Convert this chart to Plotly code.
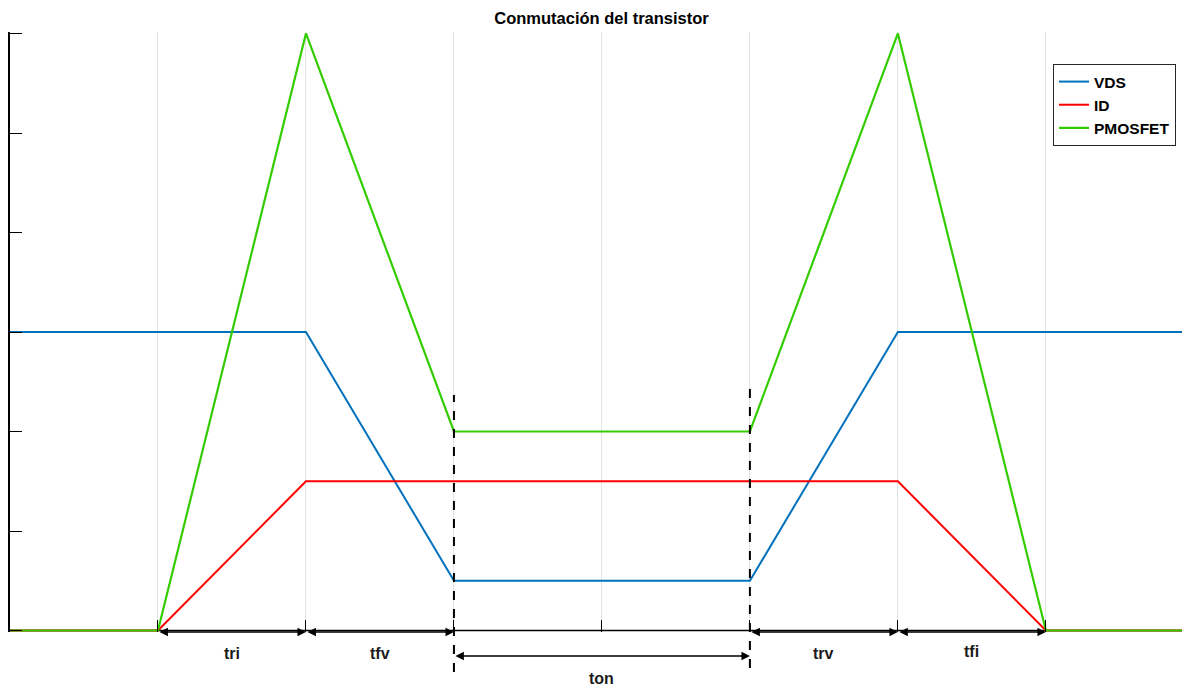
import plotly.graph_objects as go

# Data
t_vds = [0, 2, 3, 5, 6, 7.92]
vds = [3, 3, 0.5, 0.5, 3, 3]
t_id = [0, 1, 2, 6, 7, 7.92]
id_ = [0, 0, 1.5, 1.5, 0, 0]
t_p = [0, 1, 2, 3, 5, 6, 7, 7.92]
pmos = [0, 0, 6, 2, 2, 6, 0, 0]

interval_labels = ["tri", "tfv", "ton", "trv", "tfi"]
interval_start = [1, 2, 3, 5, 6]
interval_end = [2, 3, 5, 6, 7]
dashed_x = [3, 5]

FONT = "Liberation Sans, Arial, sans-serif"

fig = go.Figure()
# x axis baseline (drawn below traces)
fig.add_shape(type="line", xref="paper", yref="y", x0=0, x1=1, y0=0, y1=0,
              line=dict(color="black", width=1.5), layer="below")

fig.add_trace(go.Scatter(x=t_vds, y=vds, mode="lines", name="<b>VDS</b>",
                         line=dict(color="#0072BD", width=2)))
fig.add_trace(go.Scatter(x=t_id, y=id_, mode="lines", name="<b>ID</b>",
                         line=dict(color="#FF0000", width=2)))
fig.add_trace(go.Scatter(x=t_p, y=pmos, mode="lines", name="<b>PMOSFET</b>",
                         line=dict(color="#33CC00", width=2.2)))

# dashed vertical lines (paper y so they extend below the axis)
dash_top = [2.37 / 6, 2.44 / 6]
dash_bot = [-0.40 / 6, -0.36 / 6]
for xv, yt, yb in zip(dashed_x, dash_top, dash_bot):
    fig.add_shape(type="line", xref="x", yref="paper", x0=xv, x1=xv, y0=yb, y1=yt,
                  line=dict(color="black", width=2, dash="dash"), layer="above")

# arrows
arrow_y = [0, 0, -0.24 / 6, 0, 0]
label_y = [-0.21 / 6, -0.21 / 6, -0.46 / 6, -0.21 / 6, -0.19 / 6]
for lab, xs, xe, ay, ly in zip(interval_labels, interval_start, interval_end, arrow_y, label_y):
    fig.add_annotation(x=xe, y=ay, xref="x", yref="paper", ax=xs, ay=0,
                       axref="x", ayref="pixel", text="", showarrow=True,
                       arrowhead=2, startarrowhead=2, arrowside="end+start",
                       arrowsize=1.3, startarrowsize=1.3, arrowwidth=1.3, arrowcolor="black",
                       standoff=0, startstandoff=0)
    fig.add_annotation(x=(xs + xe) / 2, y=ly, xref="x", yref="paper", text="<b>%s</b>" % lab,
                       showarrow=False, font=dict(family=FONT, size=16, color="#1a1a1a"),
                       yanchor="middle")

fig.update_layout(
    width=1182, height=687,
    margin=dict(l=10, r=0, t=32, b=55),
    plot_bgcolor="white", paper_bgcolor="white",
    title=dict(text="<b>Conmutación del transistor</b>", x=601.5 / 1182, xanchor="center",
               y=1 - 18 / 687, yanchor="middle",
               font=dict(family=FONT, size=16.5, color="black")),
    showlegend=True,
    legend=dict(x=(1176 - 10) / 1172, xanchor="right", y=(632 - 64) / 600, yanchor="top",
                bgcolor="white", bordercolor="#262626", borderwidth=1,
                font=dict(family=FONT, size=15.5, color="black"),
                tracegroupgap=0),
    xaxis=dict(range=[0, 7.92], showgrid=True, gridcolor="#e3e3e3", gridwidth=1,
               tickvals=[1, 2, 3, 4, 5, 6, 7], showticklabels=False,
               ticks="inside", ticklen=12, tickcolor="black", tickwidth=1,
               showline=False, zeroline=False),
    yaxis=dict(range=[-0.015, 6.015], showgrid=False,
               tickvals=[0, 1, 2, 3, 4, 5, 6], showticklabels=False,
               ticks="inside", ticklen=12, tickcolor="black", tickwidth=1,
               showline=True, linecolor="black", linewidth=1.5, zeroline=False),
)

fig.write_html(
    "out.html",
    config={"displayModeBar": False},
    post_script="document.documentElement.style.overflow='hidden';"
                "document.body.style.margin='0';document.body.style.overflow='hidden';",
)
